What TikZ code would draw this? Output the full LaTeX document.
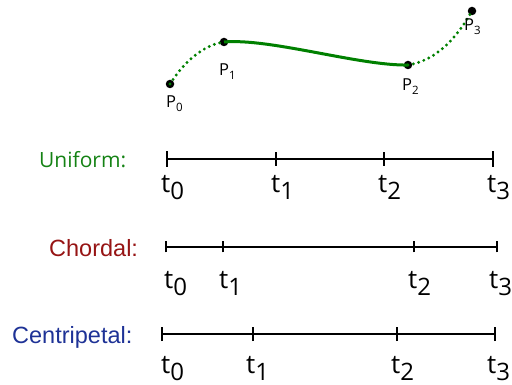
\documentclass[tikz,border=0pt]{standalone}
\usepackage{fontspec}
\newfontfamily\osf{Open Sans}
\newfontfamily\lsf{Liberation Sans}
\definecolor{curvegreen}{RGB}{0,128,0}
\definecolor{labgreen}{RGB}{20,130,20}
\definecolor{labred}{RGB}{150,20,20}
\definecolor{labblue}{RGB}{30,50,150}
\tikzset{
  pt/.style={circle,fill=black,inner sep=0pt,minimum size=8.5pt},
  plab/.style={anchor=base west,inner sep=0pt,font=\osf\fontsize{16.5}{18}\selectfont},
  tlab/.style={anchor=base west,inner sep=0pt,font=\osf\fontsize{26}{28}\selectfont},
  axis/.style={line width=2.6pt,black},
  tick/.style={line width=2pt,black},
  dotline/.style={curvegreen,line width=3.2pt,line cap=round,dash pattern=on 0pt off 5.5pt},
  solidline/.style={curvegreen,line width=3pt},
  rowlab/.style={anchor=base west,inner sep=0pt}
}
\newcommand{\Pl}[1]{P\raisebox{-4pt}{\fontsize{11.5}{12}\selectfont #1}}
\newcommand{\Tl}[1]{t\raisebox{-7pt}{\fontsize{24}{26}\selectfont #1}}
\begin{document}
\begin{tikzpicture}[x=1pt,y=-1pt]
\useasboundingbox (0,0) rectangle (512,385);
% control points
\node[pt] (p0) at (170,84) {};
\node[pt] (p1) at (224,42) {};
\node[pt] (p2) at (408,65) {};
\node[pt] (p3) at (472,11) {};
% curve
\draw[dotline] (p0.center) .. controls (184,62) and (203,45) .. (p1.center);
\draw[solidline] (p1.center) .. controls (270,38) and (360,66) .. (p2.center);
\draw[dotline] (p2.center) .. controls (440,60) and (460,32) .. (p3.center);
% point labels
\node[plab] (l0) at (166,108) {\Pl{0}};
\node[plab] (l1) at (219,76) {\Pl{1}};
\node[plab] (l2) at (402,91) {\Pl{2}};
\node[plab] (l3) at (464,31) {\Pl{3}};

% Uniform
\node[rowlab,font=\osf\fontsize{21}{23}\selectfont,text=labgreen] (uni) at (39,168) {Uniform:};
\coordinate (u0) at (167,159);
\coordinate (u1) at (276,159);
\coordinate (u2) at (384,159);
\coordinate (u3) at (493,159);
\draw[axis] (u0) -- (u3);
\draw[tick] ([yshift=-8pt]u0) -- ([yshift=8pt]u0);
\draw[tick] ([yshift=-7pt]u1) -- ([yshift=7pt]u1);
\draw[tick] ([yshift=-7pt]u2) -- ([yshift=7pt]u2);
\draw[tick] ([yshift=-8pt]u3) -- ([yshift=8pt]u3);
\node[tlab] (ut0) at (161,193) {\Tl{0}};
\node[tlab] (ut1) at (271,193) {\Tl{1}};
\node[tlab] (ut2) at (378,193) {\Tl{2}};
\node[tlab] (ut3) at (487,193) {\Tl{3}};

% Chordal
\node[rowlab,font=\lsf\fontsize{23.5}{25}\selectfont,text=labred] (cho) at (49,257) {Chordal:};
\coordinate (c0) at (166,247);
\coordinate (c1) at (223,247);
\coordinate (c2) at (414,247);
\coordinate (c3) at (497,247);
\draw[axis] (c0) -- (c3);
\draw[tick] ([yshift=-5.5pt]c0) -- ([yshift=5.5pt]c0);
\draw[tick] ([yshift=-5.5pt]c1) -- ([yshift=5.5pt]c1);
\draw[tick] ([yshift=-5.5pt]c2) -- ([yshift=5.5pt]c2);
\draw[tick] ([yshift=-5.5pt]c3) -- ([yshift=5.5pt]c3);
\node[tlab] (ct0) at (164,288) {\Tl{0}};
\node[tlab] (ct1) at (219,288) {\Tl{1}};
\node[tlab] (ct2) at (408,288) {\Tl{2}};
\node[tlab] (ct3) at (489,288) {\Tl{3}};

% Centripetal
\node[rowlab,font=\lsf\fontsize{23.5}{25}\selectfont,text=labblue] (cen) at (12,343) {Centripetal:};
\coordinate (e0) at (162,334);
\coordinate (e1) at (253,334);
\coordinate (e2) at (397,334);
\coordinate (e3) at (495,334);
\draw[axis] (e0) -- (e3);
\draw[tick] ([yshift=-7pt]e0) -- ([yshift=7pt]e0);
\draw[tick] ([yshift=-7pt]e1) -- ([yshift=7pt]e1);
\draw[tick] ([yshift=-7pt]e2) -- ([yshift=7pt]e2);
\draw[tick] ([yshift=-7pt]e3) -- ([yshift=7pt]e3);
\node[tlab] (et0) at (161,373) {\Tl{0}};
\node[tlab] (et1) at (246,373) {\Tl{1}};
\node[tlab] (et2) at (391,373) {\Tl{2}};
\node[tlab] (et3) at (487,373) {\Tl{3}};
\end{tikzpicture}
\end{document}
